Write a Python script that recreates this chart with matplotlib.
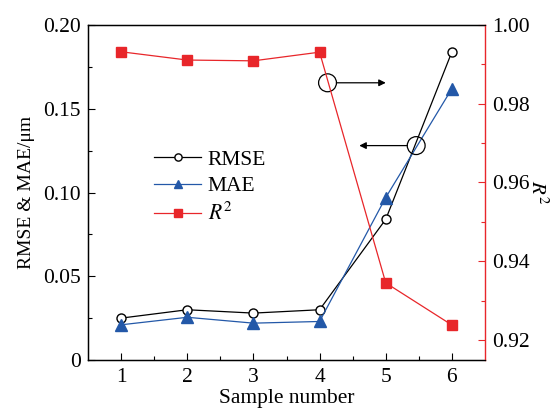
import matplotlib.pyplot as plt
from matplotlib.patches import Ellipse

# Data
samples = [1, 2, 3, 4, 5, 6]
rmse = [0.025, 0.030, 0.028, 0.030, 0.084, 0.184]
mae = [0.021, 0.0255, 0.022, 0.023, 0.097, 0.162]
r2 = [0.9932, 0.9911, 0.9909, 0.9931, 0.9345, 0.9238]

RED = "#e8262a"
BLUE = "#2358a8"

plt.rcParams["font.family"] = ["Liberation Serif", "DejaVu Serif"]
plt.rcParams["mathtext.fontset"] = "stix"

fig = plt.figure(figsize=(5.59, 4.08), dpi=100)
ax = fig.add_axes([88 / 559, 1 - 360 / 408, (485 - 88) / 559, (360 - 25) / 408])
ax2 = ax.twinx()

l1, = ax.plot(samples, rmse, color="black", lw=0.9, marker="o", ms=6.5,
              mfc="white", mec="black", mew=1.0, label="RMSE", zorder=3)
l2, = ax.plot(samples, mae, color=BLUE, lw=0.9, marker="^", ms=8,
              mfc=BLUE, mec=BLUE, label="MAE", zorder=3)
l3, = ax2.plot(samples, r2, color=RED, lw=0.9, marker="s", ms=7,
               mfc=RED, mec=RED, label="$R^2$", zorder=3)

ax.set_xlim(0.5, 6.5)
ax.set_ylim(0, 0.20)
ax2.set_ylim(0.91492, 1.00)

ax.set_xticks(samples)
ax.set_xticks([1.5, 2.5, 3.5, 4.5, 5.5], minor=True)
ax.set_yticks([0, 0.05, 0.10, 0.15, 0.20])
ax.set_yticklabels(["0", "0.05", "0.10", "0.15", "0.20"])
ax.set_yticks([0.025, 0.075, 0.125, 0.175], minor=True)
ax2.set_yticks([0.92, 0.94, 0.96, 0.98, 1.00])
ax2.set_yticklabels(["0.92", "0.94", "0.96", "0.98", "1.00"])
ax2.set_yticks([0.93, 0.95, 0.97, 0.99], minor=True)

ax.tick_params(axis="both", which="both", direction="in", labelsize=15.5)
ax.tick_params(which="major", length=5, width=0.8)
ax.tick_params(which="minor", length=3, width=0.8)
ax.tick_params(axis="x", top=False, pad=6)
ax.tick_params(axis="y", pad=5)
ax2.tick_params(axis="y", which="both", direction="in", color=RED, labelsize=15.5, pad=5)
ax2.tick_params(which="major", length=5, width=0.8)
ax2.tick_params(which="minor", length=3, width=0.8)

for s in ["left", "bottom", "top"]:
    ax.spines[s].set_linewidth(1.0)
ax2.spines["right"].set_color(RED)
ax2.spines["right"].set_linewidth(1.0)
ax.spines["right"].set_visible(False)

ax.set_xlabel("Sample number", fontsize=15.5, labelpad=1)
ax.set_ylabel("RMSE & MAE/μm", fontsize=14, labelpad=6)
ax2.set_ylabel("$R^2$", fontsize=15, rotation=270, labelpad=13)

# Circle and arrow annotations pointing at the right/left axes
ax.add_patch(Ellipse((4.12, 0.1655), 0.27, 0.0107, transform=ax.transData,
                     fill=False, ec="black", lw=0.9, zorder=4))
ax.annotate("", xy=(5.0, 0.1655), xytext=(4.255, 0.1655),
            arrowprops=dict(arrowstyle="-|>", color="black", lw=0.9,
                            mutation_scale=10, shrinkA=0, shrinkB=0))
ax.add_patch(Ellipse((5.46, 0.128), 0.27, 0.0107, transform=ax.transData,
                     fill=False, ec="black", lw=0.9, zorder=4))
ax.annotate("", xy=(4.6, 0.128), xytext=(5.325, 0.128),
            arrowprops=dict(arrowstyle="-|>", color="black", lw=0.9,
                            mutation_scale=10, shrinkA=0, shrinkB=0))

leg = ax.legend(handles=[l1, l2, l3], loc="upper left",
                bbox_to_anchor=(0.117, 0.685), frameon=False, fontsize=15.5,
                handlelength=2.2, handletextpad=0.3, labelspacing=0.3,
                markerscale=0.8)

fig.savefig("out.png", dpi=100)
